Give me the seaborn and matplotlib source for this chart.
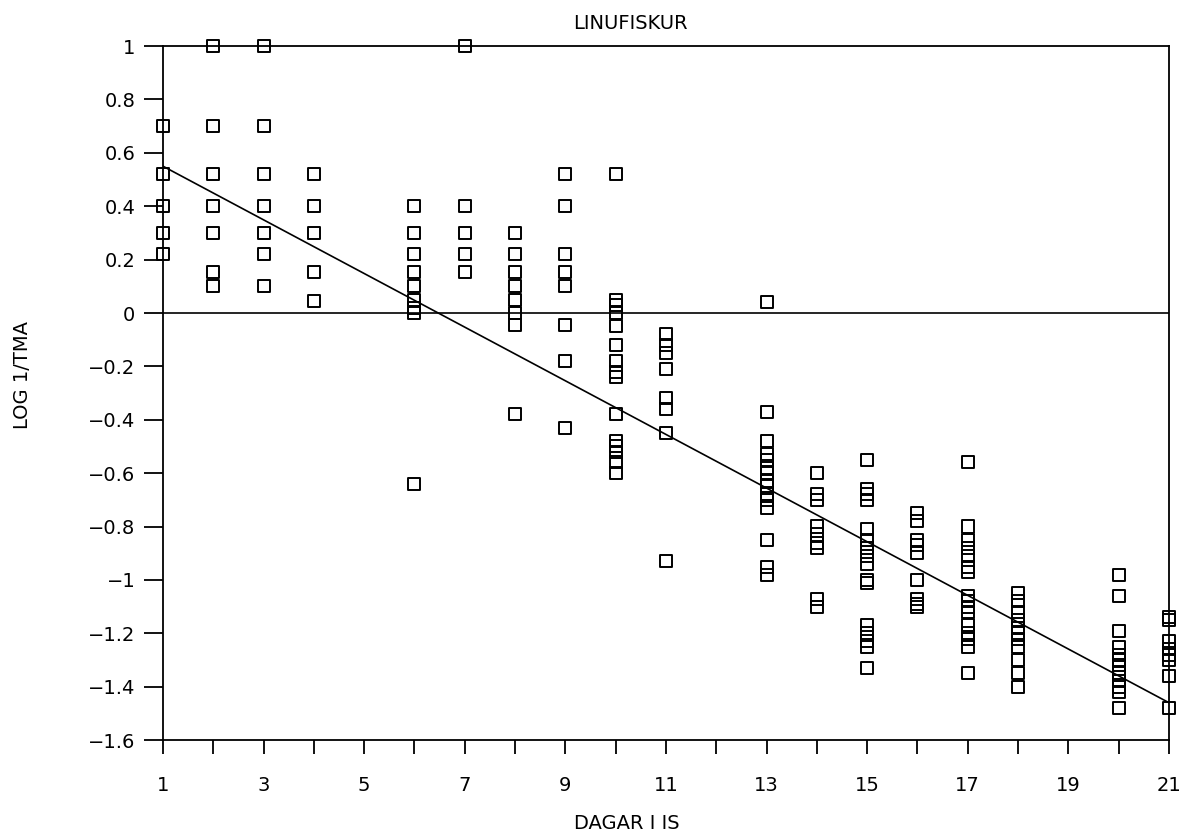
import matplotlib
matplotlib.use("Agg")
import matplotlib.pyplot as plt
import matplotlib.ticker as mticker
import pandas as pd
import seaborn as sns

# days on ice and the log 1/TMA readings for each day
days = [1, 2, 3, 4, 6, 7, 8, 9, 10, 11, 13, 14, 15, 16, 17, 18, 20, 21]
log_values = [
    [0.70, 0.52, 0.40, 0.30, 0.22],
    [1.0, 0.70, 0.52, 0.40, 0.30, 0.155, 0.10],
    [1.0, 0.70, 0.52, 0.40, 0.30, 0.22, 0.10],
    [0.52, 0.40, 0.30, 0.155, 0.046],
    [0.40, 0.30, 0.22, 0.155, 0.10, 0.05, 0.02, 0.0, -0.64],
    [1.0, 0.40, 0.30, 0.22, 0.155],
    [0.30, 0.22, 0.155, 0.10, 0.05, 0.0, -0.045, -0.38],
    [0.52, 0.40, 0.22, 0.155, 0.10, -0.045, -0.18, -0.43],
    [0.52, 0.05, 0.03, 0.0, -0.05, -0.12, -0.18, -0.22, -0.24, -0.38,
     -0.48, -0.50, -0.52, -0.56, -0.60],
    [-0.08, -0.12, -0.15, -0.21, -0.32, -0.36, -0.45, -0.93],
    [0.04, -0.37, -0.48, -0.53, -0.55, -0.58, -0.60, -0.63, -0.65, -0.68,
     -0.70, -0.73, -0.85, -0.95, -0.98],
    [-0.60, -0.68, -0.70, -0.80, -0.83, -0.86, -0.88, -1.07, -1.10],
    [-0.55, -0.66, -0.68, -0.70, -0.81, -0.85, -0.88, -0.91, -0.94, -1.0,
     -1.01, -1.17, -1.20, -1.23, -1.25, -1.33],
    [-0.75, -0.78, -0.85, -0.87, -0.90, -1.0, -1.07, -1.09, -1.10],
    [-0.56, -0.80, -0.85, -0.88, -0.91, -0.95, -0.97, -1.06, -1.08, -1.10,
     -1.12, -1.17, -1.20, -1.22, -1.25, -1.35],
    [-1.05, -1.08, -1.12, -1.15, -1.18, -1.20, -1.22, -1.25, -1.30, -1.35,
     -1.40],
    [-0.98, -1.06, -1.19, -1.25, -1.28, -1.30, -1.32, -1.35, -1.38, -1.40,
     -1.42, -1.48],
    [-1.14, -1.15, -1.23, -1.26, -1.28, -1.30, -1.36, -1.48],
]

# fitted line as drawn on the chart (end points)
fit_days = [1, 21]
fit_log = [0.55, -1.46]

title = "LINUFISKUR"
x_label = "DAGAR I IS"
y_label = "LOG 1/TMA"

rows = []
for d, vals in zip(days, log_values):
    for v in vals:
        rows.append({"Dagar": d, "Log": v})
df = pd.DataFrame(rows)
fit_df = pd.DataFrame({"Dagar": fit_days, "Log": fit_log})

sns.set_style("ticks")
plt.rcParams["font.family"] = ["DejaVu Sans"]
plt.rcParams["text.color"] = "black"
plt.rcParams["xtick.color"] = "black"
plt.rcParams["ytick.color"] = "black"
plt.rcParams["axes.labelcolor"] = "black"

fig = plt.figure(figsize=(11.82, 8.34), dpi=100)
ax = fig.add_axes([0.1379, 0.1127, 0.851, 0.832])

sns.scatterplot(data=df, x="Dagar", y="Log", ax=ax, marker="s", s=75,
                facecolors="none", edgecolor="black", linewidth=1.4,
                clip_on=False, zorder=3)
sns.lineplot(data=fit_df, x="Dagar", y="Log", ax=ax, color="black", lw=1.2)
ax.axhline(0, color="black", lw=1.2, zorder=1)

ax.set_xlim(1, 21)
ax.set_ylim(-1.6, 1)
ax.xaxis.set_major_locator(mticker.MultipleLocator(2, offset=1))
ax.xaxis.set_minor_locator(mticker.MultipleLocator(1))
ax.yaxis.set_major_locator(mticker.MultipleLocator(0.2))
ax.yaxis.set_major_formatter(
    mticker.FuncFormatter(lambda v, p: ("%g" % round(v, 1)).replace("-", "\u2212")))
ax.tick_params(axis="x", which="both", direction="out", length=10, width=1.3,
               pad=16, labelsize=14)
ax.tick_params(axis="y", direction="out", length=14, width=1.3, pad=6,
               labelsize=14)
for sp in ax.spines.values():
    sp.set_linewidth(1.3)
    sp.set_color("black")

ax.set_title(title, fontsize=14, x=0.465, y=1.033, pad=0, va="center")
ax.set_xlabel(x_label, fontsize=14)
ax.xaxis.set_label_coords(0.461, -0.12)
ax.xaxis.label.set_verticalalignment("center")
ax.set_ylabel(y_label, fontsize=14)
ax.yaxis.set_label_coords(-0.140, 0.526)
ax.yaxis.label.set_verticalalignment("center")

fig.savefig("out.png", dpi=100)
